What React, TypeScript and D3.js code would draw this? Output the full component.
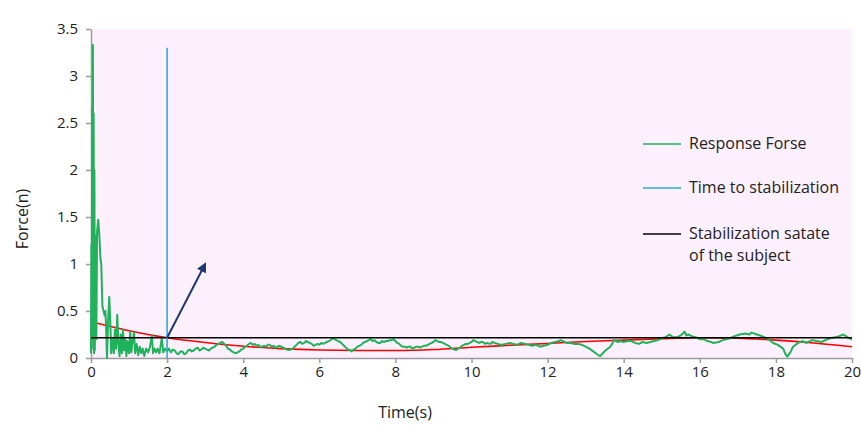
import React, { useEffect, useRef } from 'react';
import * as d3 from 'd3';

// Response force (time s, force n)
const responseForce: [number, number][] = [
  [0, 0.05], [0.01, 1.2], [0.02, 0.1], [0.03, 2.65], [0.04, 0.3], [0.05, 3.33], [0.06, 0.2],
  [0.07, 2.6], [0.08, 0.05], [0.09, 2.0], [0.1, 0.08], [0.12, 1.3], [0.14, 0.2], [0.16, 1.35],
  [0.19, 1.47], [0.22, 1.3], [0.25, 1.05], [0.27, 1.0], [0.3, 0.55], [0.33, 0.5], [0.36, 0.45],
  [0.38, 0.5], [0.4, 0.3], [0.42, 0.0], [0.45, 0.4], [0.48, 0.65], [0.51, 0.35], [0.53, 0.05],
  [0.56, 0.2], [0.6, 0.05], [0.63, 0.3], [0.66, 0.1], [0.69, 0.46], [0.72, 0.15], [0.75, 0.02],
  [0.78, 0.25], [0.81, 0.05], [0.84, 0.3], [0.87, 0.08], [0.9, 0.2], [0.93, 0.02], [0.96, 0.18],
  [1.0, 0.05], [1.03, 0.28], [1.06, 0.06], [1.1, 0.2], [1.13, 0.27], [1.16, 0.05], [1.2, 0.15],
  [1.24, 0.03], [1.28, 0.12], [1.32, 0.05], [1.36, 0.1], [1.4, 0.02], [1.45, 0.1], [1.5, 0.06],
  [1.55, 0.12], [1.6, 0.24], [1.63, 0.05], [1.67, 0.1], [1.71, 0.06], [1.75, 0.1], [1.8, 0.05],
  [1.86, 0.21], [1.9, 0.06], [1.95, 0.1], [2.0, 0.07], [2.05, 0.1], [2.1, 0.06], [2.15, 0.09],
  [2.2, 0.08], [2.25, 0.05], [2.3, 0.04], [2.35, 0.07], [2.4, 0.07], [2.45, 0.04], [2.5, 0.05],
  [2.55, 0.08], [2.6, 0.09], [2.65, 0.07], [2.7, 0.08], [2.75, 0.1], [2.8, 0.11], [2.85, 0.08],
  [2.9, 0.09], [2.95, 0.11], [3.0, 0.1], [3.05, 0.09], [3.1, 0.08], [3.15, 0.1], [3.2, 0.11],
  [3.25, 0.12], [3.3, 0.14], [3.35, 0.15], [3.4, 0.16], [3.45, 0.17], [3.5, 0.15], [3.55, 0.13],
  [3.6, 0.1], [3.65, 0.09], [3.7, 0.07], [3.75, 0.06], [3.8, 0.05], [3.85, 0.06], [3.9, 0.07],
  [3.95, 0.09], [4.0, 0.1], [4.05, 0.12], [4.1, 0.13], [4.15, 0.15], [4.2, 0.16], [4.25, 0.14],
  [4.3, 0.15], [4.35, 0.13], [4.4, 0.14], [4.45, 0.12], [4.5, 0.12], [4.55, 0.13], [4.6, 0.12],
  [4.65, 0.14], [4.7, 0.14], [4.75, 0.12], [4.8, 0.13], [4.85, 0.11], [4.9, 0.12], [4.95, 0.13],
  [5.0, 0.12], [5.05, 0.11], [5.1, 0.1], [5.15, 0.09], [5.2, 0.085], [5.25, 0.09], [5.3, 0.1],
  [5.35, 0.12], [5.4, 0.14], [5.45, 0.16], [5.5, 0.17], [5.55, 0.15], [5.6, 0.16], [5.65, 0.18],
  [5.7, 0.17], [5.75, 0.16], [5.8, 0.15], [5.85, 0.13], [5.9, 0.14], [5.95, 0.15], [6.0, 0.14],
  [6.05, 0.16], [6.1, 0.15], [6.15, 0.16], [6.2, 0.17], [6.25, 0.18], [6.3, 0.19], [6.35, 0.21],
  [6.4, 0.2], [6.45, 0.19], [6.5, 0.18], [6.55, 0.17], [6.6, 0.15], [6.65, 0.13], [6.7, 0.11],
  [6.75, 0.09], [6.8, 0.085], [6.85, 0.07], [6.9, 0.09], [6.95, 0.1], [7.0, 0.12], [7.05, 0.13],
  [7.1, 0.14], [7.15, 0.16], [7.2, 0.17], [7.25, 0.18], [7.3, 0.19], [7.35, 0.2], [7.4, 0.18],
  [7.45, 0.19], [7.5, 0.17], [7.55, 0.16], [7.6, 0.16], [7.65, 0.18], [7.7, 0.17], [7.75, 0.18],
  [7.8, 0.18], [7.85, 0.19], [7.9, 0.19], [7.95, 0.2], [8.0, 0.18], [8.05, 0.16], [8.1, 0.15],
  [8.15, 0.13], [8.2, 0.12], [8.25, 0.12], [8.3, 0.11], [8.35, 0.12], [8.4, 0.12], [8.45, 0.1],
  [8.5, 0.11], [8.55, 0.12], [8.6, 0.12], [8.65, 0.11], [8.7, 0.12], [8.75, 0.13], [8.8, 0.13],
  [8.85, 0.14], [8.9, 0.15], [8.95, 0.16], [9.0, 0.17], [9.05, 0.19], [9.1, 0.18], [9.15, 0.17],
  [9.2, 0.17], [9.25, 0.16], [9.3, 0.15], [9.35, 0.14], [9.4, 0.13], [9.45, 0.11], [9.5, 0.1],
  [9.55, 0.09], [9.6, 0.085], [9.65, 0.1], [9.7, 0.11], [9.75, 0.13], [9.8, 0.14], [9.85, 0.15],
  [9.9, 0.15], [9.95, 0.16], [10.0, 0.17], [10.05, 0.19], [10.1, 0.18], [10.2, 0.16], [10.25, 0.17],
  [10.3, 0.17], [10.35, 0.15], [10.4, 0.16], [10.5, 0.15], [10.55, 0.17], [10.6, 0.16], [10.7, 0.15],
  [10.75, 0.14], [10.8, 0.14], [10.9, 0.15], [11.0, 0.16], [11.1, 0.15], [11.2, 0.14], [11.3, 0.16],
  [11.4, 0.15], [11.5, 0.14], [11.6, 0.13], [11.7, 0.14], [11.8, 0.12], [11.9, 0.13], [12.0, 0.14],
  [12.1, 0.16], [12.2, 0.17], [12.3, 0.18], [12.35, 0.19], [12.4, 0.18], [12.5, 0.16], [12.6, 0.16],
  [12.7, 0.15], [12.8, 0.15], [12.9, 0.14], [13.0, 0.12], [13.1, 0.1], [13.2, 0.07], [13.3, 0.04],
  [13.38, 0.02], [13.45, 0.05], [13.55, 0.09], [13.65, 0.12], [13.75, 0.19], [13.85, 0.17], [13.9, 0.18],
  [14.0, 0.17], [14.1, 0.18], [14.2, 0.18], [14.3, 0.16], [14.4, 0.15], [14.5, 0.17], [14.6, 0.16],
  [14.7, 0.17], [14.8, 0.18], [14.9, 0.19], [15.0, 0.21], [15.1, 0.22], [15.2, 0.25], [15.3, 0.22],
  [15.4, 0.22], [15.5, 0.24], [15.6, 0.28], [15.65, 0.24], [15.7, 0.25], [15.8, 0.23], [15.9, 0.22],
  [16.0, 0.2], [16.1, 0.2], [16.2, 0.18], [16.3, 0.17], [16.35, 0.16], [16.5, 0.17], [16.6, 0.19],
  [16.7, 0.2], [16.8, 0.21], [16.9, 0.23], [17.05, 0.25], [17.2, 0.26], [17.3, 0.25], [17.36, 0.27],
  [17.5, 0.25], [17.65, 0.23], [17.8, 0.2], [17.93, 0.16], [18.05, 0.14], [18.19, 0.1], [18.25, 0.04],
  [18.3, 0.015], [18.38, 0.06], [18.45, 0.12], [18.55, 0.15], [18.63, 0.17], [18.7, 0.18], [18.8, 0.16],
  [18.9, 0.18], [18.95, 0.19], [19.07, 0.18], [19.2, 0.17], [19.3, 0.19], [19.42, 0.21], [19.55, 0.22],
  [19.65, 0.23], [19.77, 0.25], [19.85, 0.23], [19.92, 0.21], [20.0, 0.2],
];

// Red trend curve
const trendTimes = [0, 1, 2, 3, 4, 5, 6, 7, 8, 9, 10, 11, 12, 13, 14, 15, 16, 17, 18, 19, 20];
const trendValues = [0.385, 0.29, 0.215, 0.165, 0.125, 0.1, 0.085, 0.08, 0.08, 0.09, 0.115, 0.135, 0.155, 0.175, 0.19, 0.205, 0.215, 0.21, 0.19, 0.16, 0.12];

const stabilizationTime = 2;
const stabilizationTop = 3.3;
const stabilizationLevel = 0.215;
const arrowFrom: [number, number] = [2, 0.215];
const arrowTo: [number, number] = [3, 1.0];

const xTicks = [0, 2, 4, 6, 8, 10, 12, 14, 16, 18, 20];
const yTicks = [0, 0.5, 1, 1.5, 2, 2.5, 3, 3.5];

const legendItems = [
  { label: ['Response Forse'], color: '#1fb25a' },
  { label: ['Time to stabilization'], color: '#29abe2' },
  { label: ['Stabilization satate', 'of the subject'], color: '#000000' },
];

const width = 861;
const height = 427;
const font = '"Open Sans", "Noto Sans", sans-serif';

const App: React.FC = () => {
  const svgRef = useRef<SVGSVGElement>(null);

  useEffect(() => {
    document.body.style.margin = '0';
    const svg = d3.select(svgRef.current);
    svg.selectAll('*').remove();

    const margin = { top: 29, right: 9, bottom: 69, left: 91 };
    const innerWidth = width - margin.left - margin.right;
    const innerHeight = height - margin.top - margin.bottom;

    const x = d3.scaleLinear().domain([0, 20]).range([0, innerWidth]);
    const y = d3.scaleLinear().domain([0, 3.5]).range([innerHeight, 0]);

    const g = svg.append('g').attr('transform', `translate(${margin.left},${margin.top})`);

    // Plot background
    g.append('rect')
      .attr('width', innerWidth)
      .attr('height', innerHeight)
      .attr('fill', '#fdf0fd');

    // Axes
    const xAxis = g.append('g')
      .attr('transform', `translate(0,${innerHeight})`)
      .call(d3.axisBottom(x).tickValues(xTicks).tickSize(5).tickSizeOuter(0).tickPadding(3));
    const yAxis = g.append('g')
      .call(d3.axisLeft(y).tickValues(yTicks).tickSize(5).tickSizeOuter(0).tickPadding(8)
        .tickFormat(d => String(d)));
    [xAxis, yAxis].forEach(a => {
      a.select('.domain').attr('stroke', '#9a9a9a').attr('stroke-width', 1.5);
      a.selectAll('.tick line').attr('stroke', '#9a9a9a').attr('stroke-width', 1.5);
      a.selectAll('.tick text')
        .attr('font-family', font)
        .attr('font-size', '15px')
        .attr('fill', '#222');
    });

    // Trend curve
    const trendLine = d3.line<number>()
      .x((_, i) => x(trendTimes[i]))
      .y(d => y(d))
      .curve(d3.curveMonotoneX);
    g.append('path')
      .datum(trendValues)
      .attr('d', trendLine)
      .attr('fill', 'none')
      .attr('stroke', '#ff0000')
      .attr('stroke-width', 1.6);

    // Response force
    const forceLine = d3.line<[number, number]>()
      .x(d => x(d[0]))
      .y(d => y(d[1]));
    g.append('path')
      .datum(responseForce)
      .attr('d', forceLine)
      .attr('fill', 'none')
      .attr('stroke', '#1fb25a')
      .attr('stroke-width', 2)
      .attr('stroke-linejoin', 'round');

    // Stabilization state
    g.append('line')
      .attr('x1', x(0)).attr('x2', x(20))
      .attr('y1', y(stabilizationLevel)).attr('y2', y(stabilizationLevel))
      .attr('stroke', '#000').attr('stroke-width', 1.6);

    // Time to stabilization
    g.append('line')
      .attr('x1', x(stabilizationTime)).attr('x2', x(stabilizationTime))
      .attr('y1', y(0)).attr('y2', y(stabilizationTop))
      .attr('stroke', '#29abe2').attr('stroke-width', 1.6);

    // Arrow
    svg.append('defs').append('marker')
      .attr('id', 'arrowhead')
      .attr('viewBox', '0 0 10 10')
      .attr('refX', 8).attr('refY', 5)
      .attr('markerWidth', 5).attr('markerHeight', 5)
      .attr('orient', 'auto')
      .append('path')
      .attr('d', 'M0,0 L10,5 L0,10 z')
      .attr('fill', '#1d3a6e');
    g.append('line')
      .attr('x1', x(arrowFrom[0])).attr('y1', y(arrowFrom[1]))
      .attr('x2', x(arrowTo[0])).attr('y2', y(arrowTo[1]))
      .attr('stroke', '#1d3a6e').attr('stroke-width', 2)
      .attr('marker-end', 'url(#arrowhead)');

    // Legend
    const legendY = [144, 188, 234];
    legendItems.forEach((item, i) => {
      const lg = svg.append('g').attr('transform', `translate(643,${legendY[i]})`);
      lg.append('line')
        .attr('x1', 0).attr('x2', 38)
        .attr('stroke', item.color).attr('stroke-width', 1.6);
      item.label.forEach((t, j) => {
        lg.append('text')
          .attr('x', 46).attr('y', 5 + j * 22)
          .attr('font-family', font)
          .attr('font-size', '16px')
          .attr('fill', '#222')
          .text(t);
      });
    });

    // Axis titles
    svg.append('text')
      .attr('transform', `translate(28,219) rotate(-90)`)
      .attr('text-anchor', 'middle')
      .attr('font-family', font)
      .attr('font-size', '16px')
      .attr('fill', '#222')
      .text('Force(n)');
    svg.append('text')
      .attr('x', 405).attr('y', 418)
      .attr('text-anchor', 'middle')
      .attr('font-family', font)
      .attr('font-size', '16px')
      .attr('fill', '#222')
      .text('Time(s)');
  }, []);

  return <svg ref={svgRef} width={width} height={height} style={{ display: 'block', background: '#fff' }} />;
};

export default App;
